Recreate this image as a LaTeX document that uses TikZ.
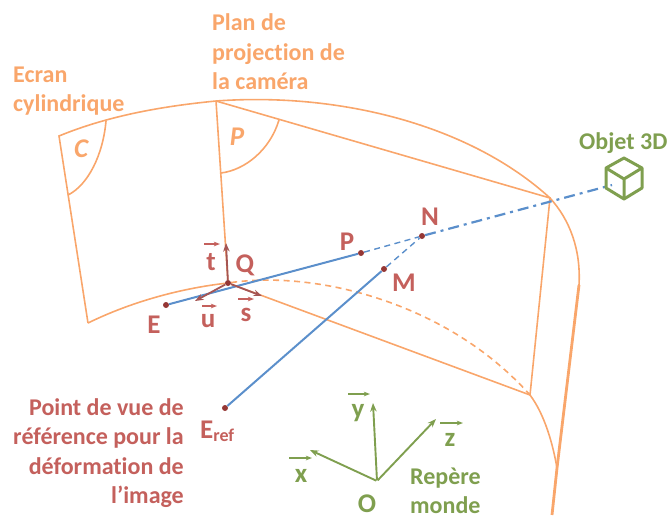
\documentclass[tikz,border=0pt]{standalone}
\usepackage{fontspec}
\setmainfont[Ligatures=NoCommon]{Carlito}
\usetikzlibrary{arrows.meta,calc}
\definecolor{ecranor}{HTML}{F9A66B}
\definecolor{rouge}{HTML}{C4605C}
\definecolor{rougef}{HTML}{953735}
\definecolor{bleu}{HTML}{5B8FCB}
\definecolor{vert}{HTML}{7F9F4F}
\tikzset{
  >={Stealth[length=3mm]},
  edge/.style={draw=ecranor,line width=1.6pt},
  edgethick/.style={draw=ecranor,line width=2.8pt},
  edgedash/.style={edge,dash pattern=on 6pt off 4.5pt},
  ray/.style={draw=bleu,line width=2pt},
  raydash/.style={draw=bleu,line width=1.4pt,dash pattern=on 6pt off 4.5pt},
  raydashdot/.style={draw=bleu,line width=2.2pt,dash pattern=on 11pt off 5pt on 3pt off 5pt},
  pt/.style={circle,fill=rougef,inner sep=0pt,minimum size=6pt},
  lblor/.style={font=\fontsize{24}{29.5}\selectfont\bfseries,text=ecranor,inner sep=0pt},
  lblred/.style={font=\fontsize{24}{29.5}\selectfont\bfseries,text=rouge,inner sep=0pt},
  lblgr/.style={font=\fontsize{24}{29.5}\selectfont\bfseries,text=vert,inner sep=0pt},
  bigl/.style={font=\fontsize{27}{29.5}\selectfont\bfseries},
  vecq/.style={->,draw=rougef!85!white,line width=1.8pt},
  veclab/.style={-{Stealth[length=2.2mm,open]},draw=rouge,line width=1.1pt},
  axe/.style={->,draw=vert,line width=1.9pt},
  axelab/.style={-{Stealth[length=2.2mm,open]},draw=vert,line width=1.1pt},
  cube/.style={draw=vert,line width=3pt,line join=round},
}
\begin{document}
\begin{tikzpicture}[x=1pt,y=-1pt]
  \useasboundingbox (0,0) rectangle (668,520);
  % screen and plane
  \coordinate (c1) at (59,136);
  \coordinate (c2) at (88,323);
  \coordinate (tp) at (216,101);
  \coordinate (rt) at (550,198);
  \coordinate (rb) at (530,395);
  \coordinate (bd) at (579,285);
  \coordinate (bj) at (557,468);
  \coordinate (be) at (552,515);
  \coordinate (ca) at (106,121);
  \coordinate (cb) at (68,195);
  \coordinate (pa) at (279,120);
  \coordinate (pb) at (221,173);
  \node[pt] (Q) at (228,283) {};
  \draw[edge] (c2) -- (c1) .. controls (110,115) and (165,106) .. (tp)
    .. controls (340,92) and (470,125) .. (rt) .. controls (570,220) and (581,250) .. (bd);
  \draw[edge] (c2) .. controls (135,300) and (185,288) .. (Q);
  \draw[edgedash] (Q) .. controls (320,270) and (450,305) .. (rb);
  \draw[edge] (tp) -- (rt) -- (rb) -- (Q) -- (tp);
  \draw[edge] (rb) .. controls (545,415) and (553,445) .. (bj);
  \draw[edgethick] (bd) -- (bj) -- (be);
  \draw[edge] (ca) .. controls (103,155) and (88,185) .. (cb);
  \draw[edge] (pa) .. controls (270,150) and (245,170) .. (pb);
  \node[lblor,anchor=west,align=left] (ecran) at (13,91) {Ecran\\cylindrique};
  \node[lblor,anchor=west,align=left] (plan) at (212,52) {Plan de\\projection de\\la caméra};
  \node[lblor,bigl] (lc) at (81,149) {\itshape C};
  \node[lblor,bigl] (lp) at (237,137) {\itshape P};
  % rays
  \node[pt] (E) at (166,305) {};
  \node[pt] (P) at (361,253) {};
  \node[pt] (N) at (422,236) {};
  \node[pt] (M) at (384,269) {};
  \node[pt] (Eref) at (225,408) {};
  \coordinate (obj) at (612,185);
  \draw[ray] (E) -- (P);
  \draw[ray] (Eref) -- (M);
  \draw[raydash] (P) -- (N);
  \draw[raydash] (M) -- (N);
  \draw[raydashdot] (N) -- (obj);
  \node[lblred,bigl] (lE) at (154,325) {E};
  \node[lblred,bigl] (lP) at (347,242) {P};
  \node[lblred,bigl] (lN) at (430,217) {N};
  \node[lblred,bigl] (lM) at (404,283) {M};
  \node[lblred,bigl] (lQ) at (245,265) {Q};
  \node[lblred,bigl,anchor=west] (lEref) at (200,431) {E\raisebox{-3pt}{\fontsize{18}{18}\selectfont ref}};
  \node[lblred,anchor=east,align=right] (lvue) at (184,453) {Point de vue de\\référence pour la\\déformation de\\l’image};
  % local frame
  \coordinate (t) at (226,243);
  \coordinate (u) at (195,301);
  \coordinate (s) at (262,296);
  \draw[vecq] (Q) -- (t);
  \draw[vecq] (Q) -- (u);
  \draw[vecq] (Q) -- (s);
  \node[lblred,bigl] (lt) at (211,262) {t};
  \node[lblred,bigl] (lu) at (208,321) {u};
  \node[lblred,bigl] (ls) at (246,315) {s};
  \draw[veclab] (204,244) -- (220,244);
  \draw[veclab] (202,306) -- (217,306);
  \draw[veclab] (238,299) -- (254,299);
  % world frame
  \node[inner sep=0pt] (O) at (377,481) {};
  \coordinate (x) at (310,450);
  \coordinate (y) at (373,403);
  \coordinate (z) at (436,419);
  \draw[axe] (O) -- (x);
  \draw[axe] (O) -- (y);
  \draw[axe] (O) -- (z);
  \node[lblgr,bigl] (lx) at (301,476) {x};
  \node[lblgr,bigl] (ly) at (358,413) {y};
  \node[lblgr,bigl] (lz) at (450,440) {z};
  \draw[axelab] (289,458) -- (312,458);
  \draw[axelab] (348,394) -- (370,394);
  \draw[axelab] (440,423) -- (463,423);
  \node[lblgr,bigl] (lO) at (367,504) {O};
  \node[lblgr,anchor=west,align=left] (rep) at (410,491) {Repère\\monde};
  % object
  \node[lblgr,anchor=west] (lobj) at (579,143) {Objet 3D};
  \coordinate (k) at (624,179);
  \draw[cube] (624,158) -- (642,168) -- (642,188) -- (624,199) -- (606,188) -- (606,168) -- cycle;
  \draw[cube] (606,168) -- (k) -- (642,168) (k) -- (624,199);
\end{tikzpicture}
\end{document}
